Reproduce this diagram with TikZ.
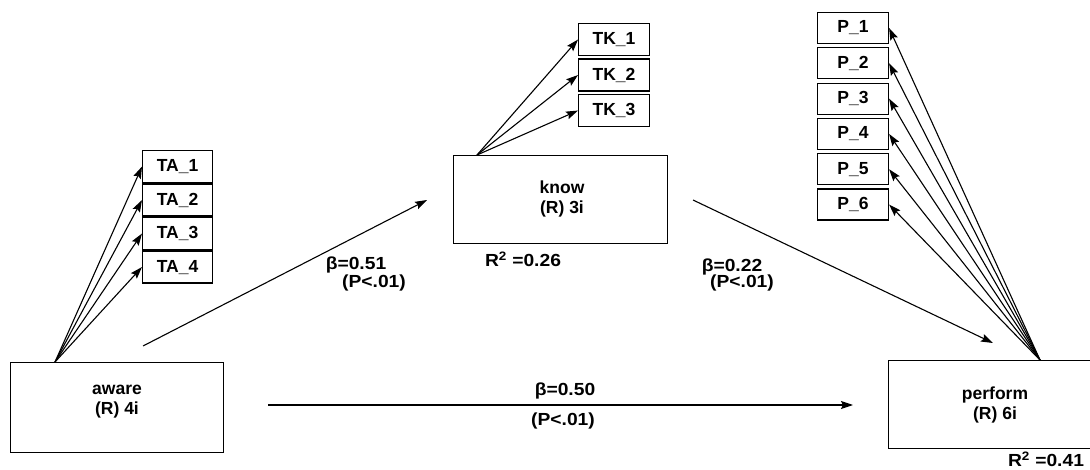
\documentclass[tikz,border=0pt]{standalone}
\usepackage{fontspec}
\setmainfont{Liberation Sans}
\usetikzlibrary{arrows.meta}
\newcommand\wx[1]{\scalebox{1.1}[1]{#1}}
\begin{document}
\begin{tikzpicture}[x=1pt,y=-1pt,
  font=\bfseries\fontsize{17.5}{20}\selectfont,
  box/.style={draw, line width=1.1pt, inner sep=0pt, anchor=north west, align=center},
  ind/.style={box, minimum width=70pt, minimum height=32pt},
  ln/.style={line width=1.1pt},
  arr/.style={ln, -{Stealth[length=12pt,width=8pt,inset=2pt]}},
  lab/.style={inner sep=0pt}]
\useasboundingbox (0,0) rectangle (1090,470);
% main constructs
\node[box, minimum width=213pt, minimum height=90pt] (aware) at (10,362) {};
\node[lab, align=center] (awaret) at (117,402) {aware\\(R) 4i};
\node[box, minimum width=214pt, minimum height=88pt] (know) at (453,155) {};
\node[lab, align=center] (knowt) at (562,199) {know\\(R) 3i};
\node[box, minimum width=206pt, minimum height=88pt] (perform) at (888,360) {};
\node[lab, align=center] (performt) at (995,405) {perform\\(R) 6i};
% indicators
\node[ind] (ta1) at (142,150) {TA\_1};
\node[ind] (ta2) at (142,183.5) {TA\_2};
\node[ind] (ta3) at (142,217) {TA\_3};
\node[ind] (ta4) at (142,250.5) {TA\_4};
\node[ind, minimum width=71pt] (tk1) at (578,23) {TK\_1};
\node[ind, minimum width=71pt] (tk2) at (578,58.5) {TK\_2};
\node[ind, minimum width=71pt] (tk3) at (578,94) {TK\_3};
\node[ind, minimum width=71pt, minimum height=31pt] (p1) at (817,12) {P\_1};
\node[ind, minimum width=71pt, minimum height=31pt] (p2) at (817,47.3) {P\_2};
\node[ind, minimum width=71pt, minimum height=31pt] (p3) at (817,82.6) {P\_3};
\node[ind, minimum width=71pt, minimum height=31pt] (p4) at (817,117.9) {P\_4};
\node[ind, minimum width=71pt, minimum height=31pt] (p5) at (817,153.2) {P\_5};
\node[ind, minimum width=71pt, minimum height=31pt] (p6) at (817,188.5) {P\_6};
% origins
\coordinate (ao) at (55,362);
\coordinate (ko) at (477,155);
\coordinate (po) at (1040,360);
\foreach \t in {ta1,ta2,ta3,ta4} \draw[arr] (ao) -- (\t.west);
\foreach \t in {tk1,tk2,tk3} \draw[arr] (ko) -- (\t.west);
\foreach \t in {p1,p2,p3,p4,p5,p6} \draw[arr] (po) -- (\t.east);
% structural paths
\coordinate (akS) at (143,346);
\coordinate (akE) at (427,200);
\coordinate (kpS) at (693,200);
\coordinate (kpE) at (993,343);
\coordinate (apS) at (268,405);
\coordinate (apE) at (853,405);
\draw[arr] (akS) -- (akE);
\draw[arr] (kpS) -- (kpE);
\draw[arr] (apS) -- (apE);
% labels
\node[lab] (b1) at (356,265) {\wx{β=0.51}};
\node[lab] (p1l) at (374,283) {\wx{(P<.01)}};
\node[lab] (b2) at (732,267) {\wx{β=0.22}};
\node[lab] (p2l) at (742,283) {\wx{(P<.01)}};
\node[lab] (b3) at (565,391) {\wx{β=0.50}};
\node[lab] (p3l) at (563,421) {\wx{(P<.01)}};
\node[lab] (r1) at (523,259) {\wx{R$^{\mathbf 2}$ =0.26}};
\node[lab] (r2) at (1046,459) {\wx{R$^{\mathbf 2}$ =0.41}};
\end{tikzpicture}
\end{document}
